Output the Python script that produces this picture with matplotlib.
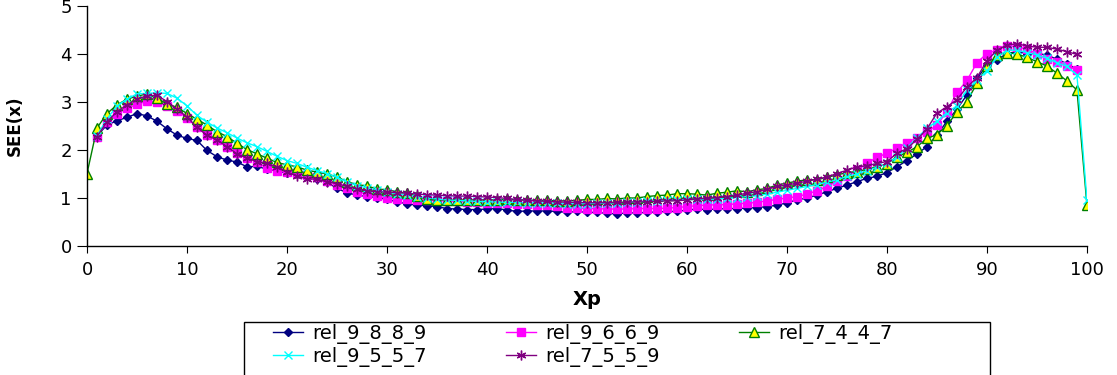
import numpy as np
import matplotlib
matplotlib.use("Agg")
import matplotlib.pyplot as plt
from matplotlib.patches import Rectangle

# SEE(x) along Xp for five relation settings
labels = ["rel_9_8_8_9", "rel_9_6_6_9", "rel_7_4_4_7", "rel_9_5_5_7", "rel_7_5_5_9"]

# first Xp of each series (rel_7_4_4_7 starts at 0, the rest at 1)
start = [1, 1, 0, 1, 1]

rel_9_8_8_9 = [
    2.30, 2.52, 2.61, 2.68, 2.76, 2.71, 2.60, 2.44, 2.31, 2.24,
    2.20, 1.99, 1.86, 1.79, 1.75, 1.65, 1.66, 1.60, 1.56, 1.52,
    1.49, 1.45, 1.40, 1.33, 1.20, 1.11, 1.06, 1.03, 1.01, 0.97,
    0.92, 0.88, 0.85, 0.84, 0.82, 0.78, 0.77, 0.76, 0.76, 0.77,
    0.78, 0.75, 0.72, 0.73, 0.73, 0.73, 0.72, 0.70, 0.72, 0.70,
    0.70, 0.68, 0.67, 0.69, 0.69, 0.70, 0.71, 0.72, 0.72, 0.75,
    0.77, 0.76, 0.77, 0.78, 0.78, 0.79, 0.80, 0.82, 0.85, 0.90,
    0.96, 1.00, 1.06, 1.13, 1.20, 1.27, 1.34, 1.41, 1.45, 1.53,
    1.65, 1.78, 1.92, 2.07, 2.31, 2.60, 2.85, 3.15, 3.49, 3.77,
    3.88, 4.01, 4.05, 4.01, 4.01, 3.98, 3.89, 3.80, 3.68,
]

rel_9_6_6_9 = [
    2.28, 2.58, 2.76, 2.87, 2.95, 3.02, 3.00, 2.92, 2.82, 2.67,
    2.47, 2.31, 2.20, 2.07, 1.93, 1.84, 1.75, 1.62, 1.56, 1.55,
    1.52, 1.47, 1.43, 1.36, 1.28, 1.20, 1.13, 1.08, 1.04, 1.00,
    0.98, 0.97, 0.96, 0.95, 0.95, 0.94, 0.93, 0.92, 0.91, 0.90,
    0.90, 0.89, 0.88, 0.87, 0.86, 0.85, 0.84, 0.80, 0.79, 0.78,
    0.78, 0.77, 0.77, 0.77, 0.78, 0.78, 0.78, 0.79, 0.80, 0.82,
    0.84, 0.85, 0.86, 0.86, 0.88, 0.89, 0.91, 0.94, 0.97, 1.00,
    1.03, 1.08, 1.15, 1.24, 1.35, 1.45, 1.58, 1.72, 1.85, 1.93,
    2.04, 2.15, 2.26, 2.38, 2.52, 2.80, 3.20, 3.45, 3.82, 4.01,
    4.08, 4.17, 4.15, 4.10, 4.01, 3.89, 3.84, 3.75, 3.67,
]

rel_7_4_4_7 = [
    1.51,
    2.46, 2.76, 2.94, 3.06, 3.12, 3.17, 3.08, 2.96, 2.89, 2.76,
    2.64, 2.52, 2.38, 2.28, 2.14, 2.01, 1.92, 1.83, 1.74, 1.69,
    1.65, 1.58, 1.54, 1.50, 1.44, 1.34, 1.28, 1.25, 1.19, 1.17,
    1.13, 1.10, 1.04, 0.97, 0.96, 0.96, 0.96, 0.96, 0.96, 0.96,
    0.96, 0.97, 0.96, 0.96, 0.95, 0.95, 0.94, 0.94, 0.95, 0.97,
    0.97, 0.99, 0.98, 1.00, 1.00, 1.03, 1.05, 1.06, 1.09, 1.09,
    1.08, 1.06, 1.10, 1.12, 1.15, 1.13, 1.17, 1.20, 1.27, 1.31,
    1.35, 1.38, 1.38, 1.43, 1.48, 1.53, 1.55, 1.60, 1.65, 1.71,
    1.86, 1.95, 2.07, 2.24, 2.32, 2.51, 2.79, 3.01, 3.39, 3.74,
    3.98, 4.03, 4.00, 3.93, 3.84, 3.75, 3.60, 3.44, 3.25, 0.85,
]

rel_9_5_5_7 = [
    2.30, 2.65, 2.92, 3.06, 3.17, 3.18, 3.19, 3.18, 3.08, 2.92,
    2.72, 2.58, 2.46, 2.36, 2.25, 2.15, 2.07, 1.97, 1.87, 1.78,
    1.72, 1.64, 1.57, 1.51, 1.43, 1.33, 1.26, 1.21, 1.16, 1.12,
    1.09, 1.06, 1.03, 1.00, 0.98, 0.96, 0.95, 0.94, 0.93, 0.92,
    0.92, 0.91, 0.91, 0.90, 0.90, 0.89, 0.89, 0.88, 0.88, 0.88,
    0.89, 0.89, 0.90, 0.91, 0.92, 0.93, 0.94, 0.95, 0.96, 0.97,
    0.97, 0.97, 0.98, 0.99, 1.01, 1.03, 1.05, 1.08, 1.12, 1.16,
    1.20, 1.24, 1.28, 1.33, 1.38, 1.45, 1.50, 1.57, 1.64, 1.72,
    1.85, 2.05, 2.25, 2.45, 2.60, 2.78, 2.92, 3.25, 3.46, 3.65,
    3.94, 4.08, 4.08, 4.03, 3.98, 3.91, 3.82, 3.74, 3.56, 0.96,
]

rel_7_5_5_9 = [
    2.28, 2.59, 2.80, 2.94, 3.06, 3.13, 3.14, 3.01, 2.85, 2.69,
    2.47, 2.31, 2.21, 2.07, 1.92, 1.83, 1.76, 1.72, 1.65, 1.55,
    1.45, 1.40, 1.39, 1.34, 1.30, 1.24, 1.19, 1.15, 1.13, 1.12,
    1.11, 1.10, 1.08, 1.07, 1.06, 1.05, 1.04, 1.04, 1.03, 1.02,
    1.01, 0.99, 0.97, 0.95, 0.94, 0.93, 0.92, 0.91, 0.91, 0.90,
    0.90, 0.90, 0.91, 0.91, 0.92, 0.92, 0.93, 0.94, 0.94, 0.96,
    0.98, 0.99, 1.01, 1.03, 1.06, 1.10, 1.13, 1.18, 1.24, 1.27,
    1.31, 1.35, 1.39, 1.44, 1.51, 1.58, 1.65, 1.67, 1.72, 1.76,
    1.93, 2.03, 2.22, 2.44, 2.77, 2.90, 3.05, 3.31, 3.51, 3.86,
    4.08, 4.19, 4.21, 4.17, 4.14, 4.14, 4.10, 4.05, 3.99,
]

series = [rel_9_8_8_9, rel_9_6_6_9, rel_7_4_4_7, rel_9_5_5_7, rel_7_5_5_9]

styles = [
    dict(color="#000080", marker="D", ms=4.5, mfc="#000080", mec="#000080"),
    dict(color="#FF00FF", marker="s", ms=6, mfc="#FF00FF", mec="#FF00FF"),
    dict(color="#008000", marker="^", ms=6.5, mfc="#FFFF00", mec="#008000", mew=1.0),
    dict(color="#00FFFF", marker="x", ms=6, mec="#00FFFF", mew=1.0),
    dict(color="#800080", marker=(6, 2, 0), ms=7, mec="#800080", mew=1.0),
]

fig = plt.figure(figsize=(11.17, 3.75), dpi=100)
ax = fig.add_axes([0.0779, 0.344, 0.8952, 0.640])

handles = []
for vals, s0, lab, st in zip(series, start, labels, styles):
    xs = np.arange(s0, s0 + len(vals))
    h, = ax.plot(xs, vals, lw=1.0, label=lab, **st)
    handles.append(h)

ax.set_xlim(0, 100)
ax.set_ylim(0, 5)
ax.set_xticks(np.arange(0, 101, 10))
ax.set_yticks(np.arange(0, 6, 1))
ax.spines["top"].set_visible(False)
ax.spines["right"].set_visible(False)
ax.tick_params(axis="x", direction="out", length=5, labelsize=13, pad=6)
ax.tick_params(axis="y", direction="out", length=7, labelsize=13, pad=4)
for sp in ("left", "bottom"):
    ax.spines[sp].set_linewidth(1.0)
ax.set_xlabel("Xp", fontsize=14, fontweight="bold", labelpad=8)
ax.set_ylabel("SEE(x)", fontsize=12, fontweight="bold", labelpad=26)

# legend fills column by column, so reorder to read row by row
order = [0, 3, 1, 4, 2]
leg = fig.legend([handles[i] for i in order], [labels[i] for i in order],
                 loc="upper left", bbox_to_anchor=(273 / 1117, 1 - 324 / 375),
                 bbox_transform=fig.transFigure, ncol=3, frameon=False,
                 fontsize=14, borderpad=0, borderaxespad=0,
                 handlelength=1.55, handletextpad=0.45, columnspacing=4.1,
                 labelspacing=0.15)
fig.patches.append(Rectangle((244 / 1117, -0.02), (990 - 244) / 1117,
                             1 - 322 / 375 + 0.02, transform=fig.transFigure,
                             fill=False, edgecolor="black", lw=1.0))

fig.savefig("out.png", dpi=100)
